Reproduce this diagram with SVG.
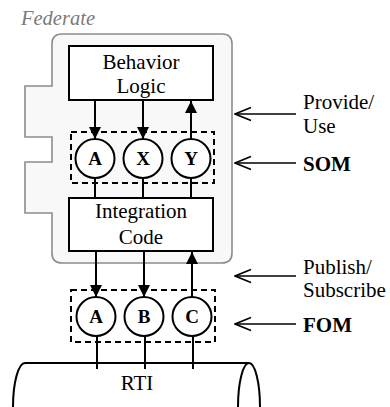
<svg xmlns="http://www.w3.org/2000/svg" width="390" height="407" viewBox="0 0 390 407">
  <style>
    .box { fill: #fff; stroke: #000; stroke-width: 2; }
    .port { fill: #fff; stroke: #000; stroke-width: 2; }
    .dash { fill: none; stroke: #000; stroke-width: 2; stroke-dasharray: 6 4; }
    .wire { fill: none; stroke: #000; stroke-width: 2; }
    .lbl { font-family: "Liberation Serif", "Times New Roman", serif; font-size: 21px; fill: #000; }
    .pl { font-family: "Liberation Serif", "Times New Roman", serif; font-size: 19px; font-weight: bold; fill: #000; text-anchor: middle; }
    .mid { text-anchor: middle; }
    .side { fill: none; stroke: #000; stroke-width: 1.6; }
  </style>
  <defs>
    <marker id="tri" viewBox="0 0 12 12" refX="12" refY="6" markerWidth="12" markerHeight="12" markerUnits="userSpaceOnUse" orient="auto">
      <path d="M0,0 L12,6 L0,12 Z" fill="#000"/>
    </marker>
    <marker id="chev" viewBox="0 0 18 16" refX="17" refY="8" markerWidth="18" markerHeight="16" markerUnits="userSpaceOnUse" orient="auto">
      <path d="M1,1.5 L17,8 L1,14.5" fill="none" stroke="#000" stroke-width="1.6"/>
    </marker>
  </defs>

  <!-- federate outline -->
  <g id="federate">
    <path d="M62,34 H222 Q232,34 232,44 V253 Q232,263 222,263 H62 Q52,263 52,253 V213 H25 V162 H52 V137 H25 V86 H52 V44 Q52,34 62,34 Z" fill="#f8f8f8" stroke="#8c8c8c" stroke-width="1.6"/>
    <text x="21" y="25" font-family="Liberation Serif, Times New Roman, serif" font-size="20.5" font-style="italic" fill="#7a7a7a">Federate</text>
  </g>

  <!-- RTI bus -->
  <g id="rti">
    <path d="M249,363 H25 A12,44 0 0 0 25,451 H249" class="wire" fill="#fff"/>
    <ellipse cx="249" cy="407" rx="11" ry="44" class="wire"/>
    <text x="137" y="390" class="lbl mid">RTI</text>
  </g>

  <g id="behavior-logic">
    <rect x="69" y="46" width="144" height="54" class="box"/>
    <text x="141" y="69" class="lbl mid">Behavior</text>
    <text x="141" y="93" class="lbl mid">Logic</text>
  </g>

  <g id="integration-code">
    <rect x="69" y="198" width="144" height="53" class="box"/>
    <text x="141" y="218" class="lbl mid">Integration</text>
    <text x="141" y="244" class="lbl mid">Code</text>
  </g>

  <g id="som">
    <rect x="71" y="132" width="143" height="51" class="dash"/>
  </g>
  <g id="fom">
    <rect x="71" y="290" width="144" height="52" class="dash"/>
  </g>

  <!-- connectors -->
  <g id="connectors">
    <line x1="95" y1="100" x2="95" y2="139" class="wire" marker-end="url(#tri)"/>
    <line x1="143" y1="100" x2="143" y2="139" class="wire" marker-end="url(#tri)"/>
    <line x1="191" y1="139" x2="191" y2="101" class="wire" marker-end="url(#tri)"/>
    <line x1="95" y1="178" x2="95" y2="198" class="wire"/>
    <line x1="143" y1="178" x2="143" y2="198" class="wire"/>
    <line x1="191" y1="178" x2="191" y2="198" class="wire"/>
    <line x1="96" y1="251" x2="96" y2="297" class="wire" marker-end="url(#tri)"/>
    <line x1="144" y1="251" x2="144" y2="297" class="wire" marker-end="url(#tri)"/>
    <line x1="192" y1="297" x2="192" y2="252" class="wire" marker-end="url(#tri)"/>
    <line x1="97" y1="336" x2="97" y2="369" class="wire"/>
    <line x1="145" y1="336" x2="145" y2="369" class="wire"/>
    <line x1="193" y1="336" x2="193" y2="369" class="wire"/>
    <line x1="296" y1="114" x2="235" y2="114" class="side" marker-end="url(#chev)"/>
    <line x1="296" y1="163" x2="235" y2="163" class="side" marker-end="url(#chev)"/>
    <line x1="296" y1="276" x2="235" y2="276" class="side" marker-end="url(#chev)"/>
    <line x1="296" y1="324" x2="235" y2="324" class="side" marker-end="url(#chev)"/>
  </g>

  <g id="som-a"><circle cx="95" cy="158.5" r="19.5" class="port"/><text x="95" y="165" class="pl">A</text></g>
  <g id="som-x"><circle cx="143" cy="158.5" r="19.5" class="port"/><text x="143" y="165" class="pl">X</text></g>
  <g id="som-y"><circle cx="191" cy="158.5" r="19.5" class="port"/><text x="191" y="165" class="pl">Y</text></g>
  <g id="fom-a"><circle cx="96" cy="316.5" r="19.5" class="port"/><text x="96" y="323" class="pl">A</text></g>
  <g id="fom-b"><circle cx="144" cy="316.5" r="19.5" class="port"/><text x="144" y="323" class="pl">B</text></g>
  <g id="fom-c"><circle cx="192" cy="316.5" r="19.5" class="port"/><text x="192" y="323" class="pl">C</text></g>

  <!-- right-hand legend -->
  <g id="legend">
    <text x="303" y="109" class="lbl">Provide/</text>
    <text x="303" y="133" class="lbl">Use</text>
    <text x="303" y="171" class="lbl" font-weight="bold">SOM</text>
    <text x="303" y="274" class="lbl">Publish/</text>
    <text x="303" y="297" class="lbl">Subscribe</text>
    <text x="303" y="332" class="lbl" font-weight="bold">FOM</text>
  </g>
</svg>
